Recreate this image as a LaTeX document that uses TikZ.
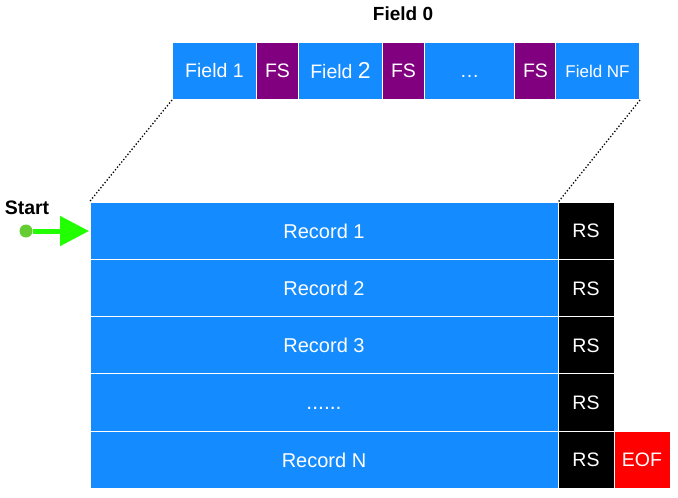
\documentclass[tikz,border=0pt]{standalone}
\usepackage{fontspec}
\setmainfont{Liberation Sans}
\usetikzlibrary{arrows.meta}
\definecolor{cblue}{RGB}{20,139,255}
\definecolor{cpurple}{RGB}{128,0,128}
\definecolor{cred}{RGB}{255,0,0}
\definecolor{cgreen}{RGB}{34,255,0}
\definecolor{cdot}{RGB}{102,204,51}
\tikzset{
  cell/.style={fill=#1, draw=white, line width=1pt, text=white, font=\fontsize{19.5}{22}\selectfont, inner sep=0pt},
  dotline/.style={dotted, line width=1.3pt, black},
}
\begin{document}
\begin{tikzpicture}[x=1pt,y=-1pt]
\useasboundingbox (0,0) rectangle (678,498);
\fill[white] (0,0) rectangle (678,498);
% top bar
\node[font=\bfseries\fontsize{19}{22}\selectfont] (f0) at (403,14) {Field 0};
\node[cell=cblue, minimum width=84, minimum height=57] (fa) at (214.5,71) {Field 1};
\node[cell=cpurple, minimum width=42, minimum height=57] (fs1) at (277.5,71) {FS};
\node[cell=cblue, minimum width=84, minimum height=57] (fb) at (340.5,71) {Field \fontsize{23}{22}\selectfont 2};
\node[cell=cpurple, minimum width=42, minimum height=57] (fs2) at (403.5,71) {FS};
\node[cell=cblue, minimum width=90, minimum height=57] (fd) at (469.5,71) {\vphantom{F}…};
\node[cell=cpurple, minimum width=42, minimum height=57] (fs3) at (535.5,71) {FS};
\node[cell=cblue, minimum width=84, minimum height=57, font=\fontsize{17}{20}\selectfont] (fn) at (597.5,71) {Field NF};
% records
\foreach \i/\t/\y in {1/{Record 1}/231, 2/{Record 2}/288.5, 3/{Record 3}/345.5, 4/{{\vphantom{F}\fontsize{21}{22}\selectfont ......}}/402.5, 5/{Record N}/460} {
  \node[cell=cblue, minimum width=468, minimum height=57.5, font=\fontsize{20}{22}\selectfont] (r\i) at (324,\y) {\t};
  \node[cell=black, minimum width=56, minimum height=57.5] (rs\i) at (586,\y) {RS};
}
\node[cell=cred, minimum width=56, minimum height=57.5] (eof) at (642,460) {EOF};
% dotted lines
\draw[dotline] (fa.south west) -- (r1.north west);
\draw[dotline] (fn.south east) -- (r1.north east);
% start
\node[font=\bfseries\fontsize{19.5}{22}\selectfont] (st) at (27,208) {Start};
\node[circle, fill=cdot, minimum size=13, inner sep=0pt] (dot) at (26,231) {};
\coordinate (tip) at (89,231);
\draw[cgreen, line width=5pt, -{Triangle[length=29pt,width=29pt]}] (dot.east) -- (tip);
\end{tikzpicture}
\end{document}
